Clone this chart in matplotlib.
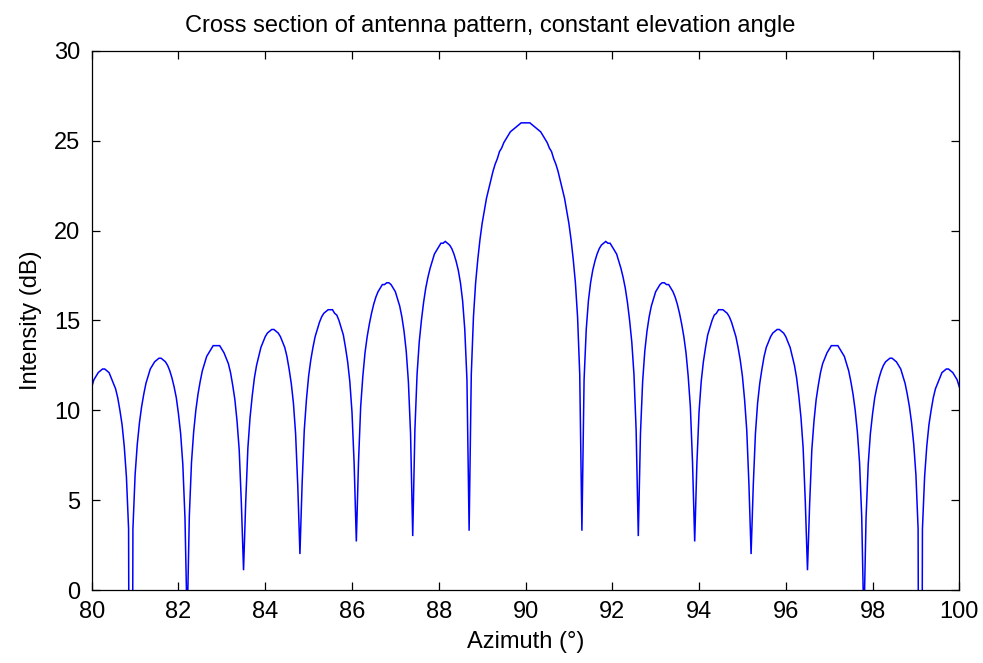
import numpy as np
import matplotlib
matplotlib.use("Agg")
import matplotlib.pyplot as plt

# Azimuth sampling: 80 to 100 degrees in 0.05 degree steps
az_start, az_stop, az_count = 80.0, 100.0, 401

# Intensity (dB) from 80.00 to 89.95 deg
intensity_left = [
    11.3, 11.7, 11.9, 12.1, 12.2, 12.3, 12.3, 12.2, 12.1, 11.8, 11.5, 11.2, 10.7, 10.0, 9.2, 8.0, 6.3, 3.4,
    -40.0,
    3.4, 6.4, 8.1, 9.3, 10.2, 10.9, 11.5, 11.9, 12.3, 12.5, 12.7, 12.8, 12.9, 12.9, 12.8, 12.7, 12.5, 12.2, 11.8, 11.3, 10.7, 9.8, 8.7, 7.0, 4.0,
    -2.0,
    4.1, 7.1, 8.8, 10.0, 10.9, 11.6, 12.2, 12.6, 13.0, 13.2, 13.4, 13.6, 13.6, 13.6, 13.6, 13.4, 13.2, 12.9, 12.6, 12.1, 11.4, 10.6, 9.4, 7.8, 4.8,
    1.1,
    4.9, 7.9, 9.6, 10.8, 11.8, 12.5, 13.0, 13.5, 13.8, 14.1, 14.3, 14.4, 14.5, 14.5, 14.4, 14.3, 14.1, 13.8, 13.5, 13.0, 12.3, 11.5, 10.4, 8.7, 5.8,
    2.0,
    5.9, 8.9, 10.6, 11.9, 12.8, 13.5, 14.1, 14.5, 14.9, 15.2, 15.4, 15.5, 15.6, 15.6, 15.6, 15.4, 15.3, 15.0, 14.6, 14.2, 13.5, 12.7, 11.6, 9.9, 7.0,
    2.7,
    7.1, 10.2, 11.9, 13.2, 14.1, 14.8, 15.4, 15.9, 16.3, 16.6, 16.8, 17.0, 17.0, 17.1, 17.1, 17.0, 16.8, 16.6, 16.2, 15.8, 15.2, 14.4, 13.3, 11.6, 8.7,
    3.0,
    8.9, 12.0, 13.8, 15.0, 16.0, 16.8, 17.4, 17.9, 18.3, 18.7, 18.9, 19.1, 19.3, 19.3, 19.4, 19.3, 19.2, 19.0, 18.7, 18.3, 17.8, 17.1, 16.1, 14.5, 11.7,
    3.3,
    12.0, 15.2, 17.1, 18.4, 19.5, 20.4, 21.1, 21.8, 22.3, 22.8, 23.3, 23.7, 24.0, 24.4, 24.6, 24.9, 25.1, 25.3, 25.5, 25.6, 25.7, 25.8, 25.9, 26.0, 26.0,
]

# Intensity (dB) from 90.00 to 100.00 deg
intensity_right = [
    26.0, 26.0, 26.0, 25.9, 25.8, 25.7, 25.6, 25.5, 25.3, 25.1, 24.9, 24.6, 24.4, 24.0, 23.7, 23.3, 22.8, 22.3, 21.8, 21.1, 20.4, 19.5, 18.4, 17.1, 15.2, 12.0,
    3.3,
    11.7, 14.5, 16.1, 17.1, 17.8, 18.3, 18.7, 19.0, 19.2, 19.3, 19.4, 19.3, 19.3, 19.1, 18.9, 18.7, 18.3, 17.9, 17.4, 16.8, 16.0, 15.0, 13.8, 12.0, 8.9,
    3.0,
    8.7, 11.6, 13.3, 14.4, 15.2, 15.8, 16.2, 16.6, 16.8, 17.0, 17.1, 17.1, 17.0, 17.0, 16.8, 16.6, 16.3, 15.9, 15.4, 14.8, 14.1, 13.2, 11.9, 10.2, 7.1,
    2.7,
    7.0, 9.9, 11.6, 12.7, 13.5, 14.2, 14.6, 15.0, 15.3, 15.4, 15.6, 15.6, 15.6, 15.5, 15.4, 15.2, 14.9, 14.5, 14.1, 13.5, 12.8, 11.9, 10.6, 8.9, 5.9,
    2.0,
    5.8, 8.7, 10.4, 11.5, 12.3, 13.0, 13.5, 13.8, 14.1, 14.3, 14.4, 14.5, 14.5, 14.4, 14.3, 14.1, 13.8, 13.5, 13.0, 12.5, 11.8, 10.8, 9.6, 7.9, 4.9,
    1.1,
    4.8, 7.8, 9.4, 10.6, 11.4, 12.1, 12.6, 12.9, 13.2, 13.4, 13.6, 13.6, 13.6, 13.6, 13.4, 13.2, 13.0, 12.6, 12.2, 11.6, 10.9, 10.0, 8.8, 7.1, 4.1,
    -2.0,
    4.0, 7.0, 8.7, 9.8, 10.7, 11.3, 11.8, 12.2, 12.5, 12.7, 12.8, 12.9, 12.9, 12.8, 12.7, 12.5, 12.3, 11.9, 11.5, 10.9, 10.2, 9.3, 8.1, 6.4, 3.4,
    -40.0,
    3.4, 6.3, 8.0, 9.2, 10.0, 10.7, 11.2, 11.5, 11.8, 12.1, 12.2, 12.3, 12.3, 12.2, 12.1, 11.9, 11.7, 11.3,
]

x_ticks = [80, 82, 84, 86, 88, 90, 92, 94, 96, 98, 100]
y_ticks = [0, 5, 10, 15, 20, 25, 30]

title_text = "Cross section of antenna pattern, constant elevation angle"
x_label = "Azimuth (°)"
y_label = "Intensity (dB)"

azimuth = np.linspace(az_start, az_stop, az_count)
intensity = np.array(intensity_left + intensity_right)

plt.rcParams["font.family"] = ["Liberation Sans", "DejaVu Sans"]

fig = plt.figure(figsize=(9.83, 6.63), dpi=100)
fig.patch.set_facecolor("white")
ax = fig.add_axes([0.0933, 0.1101, 0.8826, 0.8130])

ax.plot(azimuth, intensity, color="#0000FF", lw=1.1, solid_joinstyle="miter")

ax.set_xlim(80, 100)
ax.set_ylim(0, 30)
ax.set_xticks(x_ticks)
ax.set_yticks(y_ticks)
ax.tick_params(direction="in", length=6, width=0.9, top=True, right=True,
               labelsize=17, colors="black")
ax.tick_params(axis="y", pad=8)
ax.tick_params(axis="x", pad=8)
for spine in ax.spines.values():
    spine.set_linewidth(0.9)
    spine.set_color("black")

title = ax.set_title(title_text, fontsize=17, pad=14)
title.set_x(0.459)
ax.set_xlabel(x_label, fontsize=17, labelpad=6)
ax.set_ylabel(y_label, fontsize=17, labelpad=9)

fig.savefig("out.png", dpi=100, facecolor="white")
